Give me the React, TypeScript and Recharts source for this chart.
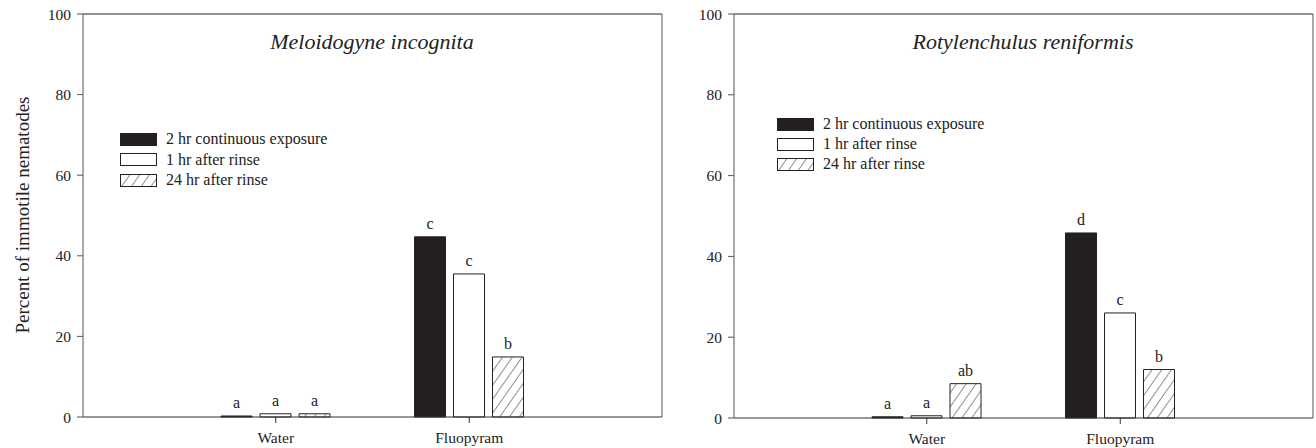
import { Bar, BarChart, LabelList, XAxis, YAxis } from 'recharts';

const categories = ['Water', 'Fluopyram'];
const seriesNames = ['2 hr continuous exposure', '1 hr after rinse', '24 hr after rinse'];
const yTicks = [0, 20, 40, 60, 80, 100];

// Meloidogyne incognita
const miContinuous = [0.25, 44.7];
const miRinse1 = [0.8, 35.5];
const miRinse24 = [0.8, 14.9];
const miLetters1 = ['a', 'c'];
const miLetters2 = ['a', 'c'];
const miLetters3 = ['a', 'b'];

// Rotylenchulus reniformis
const rrContinuous = [0.3, 45.8];
const rrRinse1 = [0.55, 26];
const rrRinse24 = [8.5, 12];
const rrLetters1 = ['a', 'd'];
const rrLetters2 = ['a', 'c'];
const rrLetters3 = ['ab', 'b'];

const FONT = 'Liberation Serif, Times New Roman, serif';
const INK = '#231f20';

function buildRows(a: number[], b: number[], c: number[], la: string[], lb: string[], lc: string[]) {
  return categories.map((name, i) => ({ name, s1: a[i], s2: b[i], s3: c[i], l1: la[i], l2: lb[i], l3: lc[i] }));
}

interface PanelProps {
  id: string;
  width: number;
  margin: { top: number; right: number; left: number; bottom: number };
  yAxisWidth: number;
  xAxisHeight: number;
  data: Array<Record<string, unknown>>;
}

function Panel({ id, width, margin, yAxisWidth, xAxisHeight, data }: PanelProps) {
  const tick = { fontSize: 15.5, fontFamily: FONT, fill: '#222' };
  const lbl = { fontSize: 16, fontFamily: FONT, fill: '#222' };
  return (
    <BarChart width={width} height={448} data={data} margin={margin} barSize={31} barGap={8}>
      <defs>
        <pattern id={id} width={8} height={8} patternUnits="userSpaceOnUse" patternTransform="rotate(35)">
          <line x1={0} y1={0} x2={0} y2={8} stroke="#222" strokeWidth={1} />
        </pattern>
      </defs>
      <XAxis
        dataKey="name"
        height={xAxisHeight}
        padding={{ left: 96, right: 96 }}
        tick={tick}
        tickSize={6}
        tickMargin={9}
        stroke="#333"
      />
      <XAxis xAxisId="top" dataKey="name" orientation="top" height={1} tick={false} tickLine={false} stroke="#222" />
      <YAxis
        domain={[0, 100]}
        ticks={yTicks}
        width={yAxisWidth}
        tick={tick}
        tickSize={6}
        tickMargin={6}
        stroke="#555"
      />
      <YAxis yAxisId="right" orientation="right" domain={[0, 100]} width={1} tick={false} tickLine={false} stroke="#555" />
      <Bar dataKey="s1" fill={INK} stroke={INK} isAnimationActive={false}>
        <LabelList dataKey="l1" position="top" offset={8} style={lbl} />
      </Bar>
      <Bar dataKey="s2" fill="#fff" stroke="#222" isAnimationActive={false}>
        <LabelList dataKey="l2" position="top" offset={8} style={lbl} />
      </Bar>
      <Bar dataKey="s3" fill={`url(#${id})`} stroke="#222" isAnimationActive={false}>
        <LabelList dataKey="l3" position="top" offset={8} style={lbl} />
      </Bar>
    </BarChart>
  );
}

function LegendBox({ left, top, rowH, id }: { left: number; top: number; rowH: number; id: string }) {
  const fills = [INK, '#fff', `url(#${id})`];
  return (
    <div style={{ position: 'absolute', left, top, fontFamily: FONT, fontSize: 16, color: '#222' }}>
      {seriesNames.map((s, i) => (
        <div key={s} style={{ display: 'flex', alignItems: 'center', height: rowH, whiteSpace: 'nowrap' }}>
          <svg width={37} height={13} style={{ marginRight: 9 }}>
            {i === 2 && (
              <defs>
                <pattern id={id} width={8} height={8} patternUnits="userSpaceOnUse" patternTransform="rotate(35)">
                  <line x1={0} y1={0} x2={0} y2={8} stroke="#222" strokeWidth={1} />
                </pattern>
              </defs>
            )}
            <rect x={0.5} y={0.5} width={36} height={12} fill={fills[i]} stroke={i === 0 ? INK : '#222'} />
          </svg>
          <span>{s}</span>
        </div>
      ))}
    </div>
  );
}

export default function App() {
  const left = buildRows(miContinuous, miRinse1, miRinse24, miLetters1, miLetters2, miLetters3);
  const right = buildRows(rrContinuous, rrRinse1, rrRinse24, rrLetters1, rrLetters2, rrLetters3);
  const title = { position: 'absolute' as const, top: 29, fontFamily: FONT, fontStyle: 'italic', fontSize: 22, color: '#222', transform: 'translateX(-50%)', whiteSpace: 'nowrap' as const };
  return (
    <div style={{ position: 'absolute', left: 0, top: 0, width: 1316, height: 448, background: '#fff', overflow: 'hidden' }}>
      <div style={{ position: 'absolute', left: 0, top: 0 }}>
        <Panel id="hatchA" width={668} margin={{ top: 13, right: 5, left: 13, bottom: 0 }} yAxisWidth={70} xAxisHeight={31} data={left} />
      </div>
      <div style={{ position: 'absolute', left: 668, top: 0 }}>
        <Panel id="hatchB" width={648} margin={{ top: 13, right: 2, left: 6, bottom: 0 }} yAxisWidth={60} xAxisHeight={30} data={right} />
      </div>
      <div style={{ ...title, left: 372 }}>Meloidogyne incognita</div>
      <div style={{ ...title, left: 1023 }}>Rotylenchulus reniformis</div>
      <div
        style={{
          position: 'absolute',
          left: 23,
          top: 215,
          transform: 'translate(-50%, -50%) rotate(-90deg)',
          fontFamily: FONT,
          fontSize: 19,
          color: '#222',
          whiteSpace: 'nowrap',
        }}
      >
        Percent of immotile nematodes
      </div>
      <LegendBox left={120} top={129} rowH={20.5} id="legHatchA" />
      <LegendBox left={777} top={114} rowH={20} id="legHatchB" />
    </div>
  );
}
